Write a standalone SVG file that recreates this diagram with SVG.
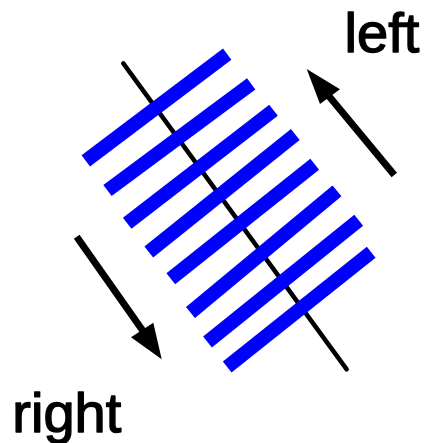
<svg xmlns="http://www.w3.org/2000/svg" width="426" height="443" viewBox="0 0 426 443">
<style>
.bar{stroke:#0000ff;stroke-width:14;stroke-linecap:butt;fill:none}
.axis{stroke:#000;stroke-width:4.5;stroke-linecap:round;fill:none}
.shaft{stroke:#000;stroke-width:7;stroke-linecap:butt;fill:none}
.head{fill:#000;stroke:none}
.lbl{font-family:"Liberation Sans",Arial,sans-serif;font-size:56px;fill:#000;stroke:#000;stroke-width:1.4;stroke-linejoin:round}
</style>
<rect width="426" height="443" fill="#fff"/>
<g id="connectors">
<line class="axis" x1="123.3" y1="63.3" x2="346.7" y2="369.3"/>
</g>
<g id="bars">
<line class="bar" x1="85.8" y1="160.8" x2="227.2" y2="54.2"/>
<line class="bar" x1="107.5" y1="190.5" x2="251.2" y2="83.8"/>
<line class="bar" x1="127.2" y1="223.3" x2="273.5" y2="110.2"/>
<line class="bar" x1="148.8" y1="252" x2="295.3" y2="134.5"/>
<line class="bar" x1="170.8" y1="278.8" x2="314.7" y2="164.2"/>
<line class="bar" x1="190.5" y1="312.5" x2="337" y2="190.8"/>
<line class="bar" x1="207.5" y1="342" x2="358.7" y2="220.2"/>
<line class="bar" x1="227.2" y1="367" x2="371.2" y2="252.2"/>
</g>
<g id="arrow-left">
<line class="shaft" x1="394.3" y1="175" x2="328" y2="95"/>
<polygon class="head" points="306.7,69 320,104 340,89.3"/>
</g>
<g id="arrow-right">
<line class="shaft" x1="76.7" y1="236.7" x2="143" y2="331"/>
<polygon class="head" points="161.7,359.3 131,337.3 153.3,322.7"/>
</g>
<g id="label-left"><text class="lbl" x="344.6" y="52.3">left</text></g>
<g id="label-right"><text class="lbl" x="12.3" y="431.7">right</text></g>
</svg>
